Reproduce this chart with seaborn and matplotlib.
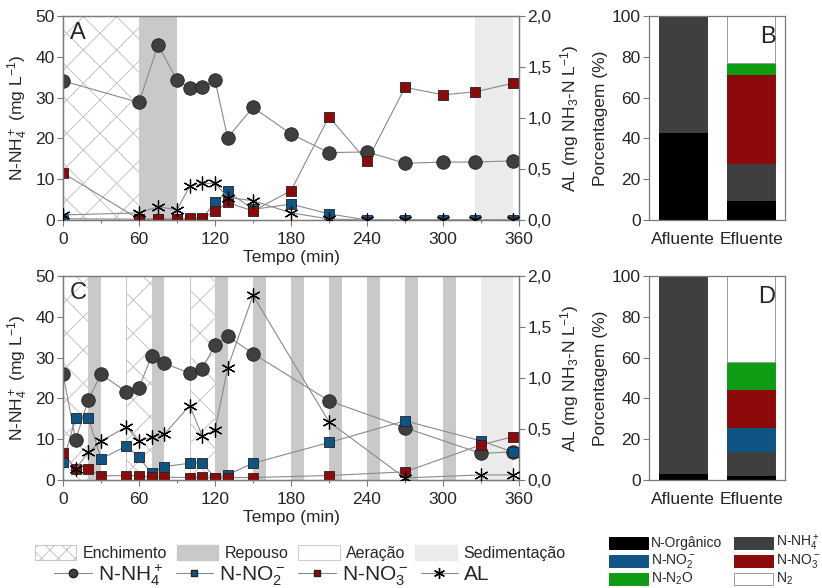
import numpy as np
import pandas as pd
import matplotlib
matplotlib.use("Agg")
import matplotlib.pyplot as plt
import seaborn as sns
from matplotlib.patches import Patch, Rectangle
from matplotlib.lines import Line2D

# ---------------- data ----------------
tA = [0, 60, 75, 90, 100, 110, 120, 130, 150, 180, 210, 240, 270, 300, 325, 355]
nh4_A = [34.1, 28.8, 42.9, 34.3, 32.3, 32.6, 34.3, 20.2, 27.6, 21.1, 16.5, 16.7, 13.9, 14.2, 14.2, 14.5]
no2_A = [0.3, 0.2, 0.2, 0.2, 0.3, 0.3, 4.4, 7.0, 2.6, 3.9, 1.5, 0.0, 0.0, 0.0, 0.0, 0.0]
no3_A = [11.5, 0.2, 0.2, 0.3, 0.5, 0.5, 2.1, 4.3, 2.2, 7.2, 25.3, 14.4, 32.5, 30.7, 31.4, 33.5]
al_A = [0.05, 0.07, 0.13, 0.10, 0.33, 0.36, 0.36, 0.22, 0.19, 0.07, 0.01, 0.0, 0.0, 0.0, 0.0, 0.0]

tC = [0, 10, 20, 30, 50, 60, 70, 80, 100, 110, 120, 130, 150, 210, 270, 330, 355]
nh4_C = [26.0, 9.8, 19.7, 25.9, 21.6, 22.6, 30.5, 28.6, 26.2, 27.3, 33.1, 35.3, 31.0, 19.4, 12.8, 6.5, 6.9]
no2_C = [4.3, 15.3, 15.3, 5.2, 8.3, 5.6, 1.6, 3.3, 4.1, 4.2, 0.5, 1.3, 4.1, 9.2, 14.5, 9.6, 6.9]
no3_C = [6.7, 2.7, 2.7, 1.0, 1.1, 1.0, 0.7, 0.7, 0.6, 0.7, 0.4, 0.6, 0.6, 1.1, 2.0, 8.6, 10.6]
tC_al = [10, 20, 30, 50, 60, 70, 80, 100, 110, 120, 130, 150, 210, 270, 330, 355]
al_C = [0.11, 0.27, 0.38, 0.52, 0.38, 0.42, 0.45, 0.73, 0.43, 0.49, 1.10, 1.81, 0.57, 0.02, 0.05, 0.05]

# phases (start, end) in minutes
fill_A = [(0, 60)]
rest_A = [(60, 90)]
sed_A = [(325, 355)]
fill_C = [(0, 20), (50, 70), (100, 120)]
rest_C = [(20, 30), (70, 80), (120, 130), (150, 160), (180, 190), (210, 220),
          (240, 250), (270, 280), (300, 310)]
sed_C = [(330, 355)]

bar_cats = ["Afluente", "Efluente"]
comp_names = ["N-Orgânico", "N-NH$_4^+$", "N-NO$_2^-$", "N-NO$_3^-$", "N-N$_2$O", "N$_2$"]
comp_B = {"Afluente": [43.0, 57.0, 0.0, 0.0, 0.0, 0.0],
          "Efluente": [9.8, 18.3, 0.0, 43.5, 5.2, 23.2]}
comp_D = {"Afluente": [3.3, 96.7, 0.0, 0.0, 0.0, 0.0],
          "Efluente": [2.5, 11.9, 11.7, 18.3, 13.6, 42.0]}

# ---------------- style ----------------
sns.set_style("ticks")
plt.rcParams['font.family'] = ['Liberation Sans', 'DejaVu Sans']
plt.rcParams['mathtext.default'] = 'regular'
plt.rcParams['hatch.linewidth'] = 0.6

C_NH4 = "#3f3f3f"
C_NO2 = "#0e5485"
C_NO3 = "#8c0a0a"
C_ORG = "#000000"
C_N2O = "#0d9c14"
C_LINE = "#8a8a8a"
C_SPINE = "#7a7a7a"
C_REST = "#c9c9c9"
C_SED = "#ebebeb"
C_HATCH = "#bdbdbd"
comp_colors = [C_ORG, C_NH4, C_NO2, C_NO3, C_N2O, "white"]

FS = 12.5

fig = plt.figure(figsize=(8.22, 5.88), dpi=100)
W, H = 822, 588


def ax_at(l, r, t, b):
    return fig.add_axes([l / W, 1 - b / H, (r - l) / W, (b - t) / H])


def style_axes(ax):
    for s in ax.spines.values():
        s.set_color(C_SPINE)
        s.set_linewidth(0.9)
    ax.tick_params(direction='out', length=4, width=0.8, color=C_SPINE,
                   labelsize=FS, pad=2)


def series(ax, t, y, marker, color, ms, z):
    d = pd.DataFrame({"t": t, "y": y})
    sns.lineplot(data=d, x="t", y="y", ax=ax, color=C_LINE, lw=0.8,
                 sort=False, zorder=z, legend=False)
    if marker == "ast":
        sns.scatterplot(data=d, x="t", y="y", ax=ax, marker=(6, 2, 0), s=ms,
                        color="black", linewidth=0.9, zorder=z + 1, legend=False)
    else:
        sns.scatterplot(data=d, x="t", y="y", ax=ax, marker=marker, s=ms,
                        color=color, edgecolor="#222222", linewidth=0.6,
                        zorder=z + 1, legend=False)


def time_panel(top, bot, fills, rests, seds, nh4, no2, no3, t, t_al, al, letter):
    ax = ax_at(63, 519, top, bot)
    style_axes(ax)
    for a, b in fills:
        ax.axvspan(a, b, facecolor="white", edgecolor=C_HATCH, hatch="x",
                   lw=0.6, zorder=0)
    for a, b in rests:
        ax.axvspan(a, b, facecolor=C_REST, edgecolor="none", zorder=0)
    for a, b in seds:
        ax.axvspan(a, b, facecolor=C_SED, edgecolor="none", zorder=0)
    series(ax, t, nh4, "o", C_NH4, 95, 3)
    series(ax, t, no2, "s", C_NO2, 55, 3)
    series(ax, t, no3, "s", C_NO3, 55, 3)
    ax.set_xlim(0, 360)
    ax.set_ylim(0, 50)
    ax.set_xticks(np.arange(0, 361, 60))
    ax.set_xticks(np.arange(30, 361, 60), minor=True)
    ax.tick_params(which='minor', direction='out', length=2.5, width=0.8, color=C_SPINE)
    ax.tick_params(axis='x', which='major', pad=5)
    ax.set_yticks(np.arange(0, 51, 10))
    ax.set_xlabel("Tempo (min)", fontsize=FS, labelpad=2)
    ax.set_ylabel("N-NH$_4^+$ (mg L$^{-1}$)", fontsize=FS, labelpad=4)
    ax.text(0.015, 0.97, letter, transform=ax.transAxes, fontsize=17,
            va='top', ha='left', zorder=10)
    ax2 = ax.twinx()
    style_axes(ax2)
    series(ax2, t_al, al, "ast", "black", 90, 4)
    ax2.set_ylim(0, 2.0)
    ax2.set_yticks([0, 0.5, 1.0, 1.5, 2.0])
    ax2.set_yticklabels(["0,0", "0,5", "1,0", "1,5", "2,0"])
    ax2.set_ylabel("AL (mg NH$_3$-N L$^{-1}$)", fontsize=FS, labelpad=5)
    ax2.set_xlim(0, 360)
    return ax


def bar_panel(top, bot, comp, letter):
    ax = ax_at(649, 785, top, bot)
    style_axes(ax)
    rows = []
    for cat in bar_cats:
        for name, v in zip(comp_names, comp[cat]):
            rows.append({"cat": cat, "comp": name, "v": v})
    df = pd.DataFrame(rows)
    bottoms = np.zeros(len(bar_cats))
    for i, name in enumerate(comp_names):
        vals = df[df["comp"] == name].set_index("cat").loc[bar_cats, "v"].values
        ax.bar(range(len(bar_cats)), vals, bottom=bottoms, width=0.7,
               color=comp_colors[i],
               edgecolor=("#9a9a9a" if comp_colors[i] == "white" else comp_colors[i]),
               linewidth=0.7, zorder=2)
        bottoms += vals
    ax.set_xlim(-0.5, 1.5)
    ax.set_ylim(0, 100)
    ax.set_xticks(range(len(bar_cats)))
    ax.set_xticklabels(bar_cats, fontsize=FS)
    ax.tick_params(axis='x', length=0, pad=9)
    ax.set_yticks(np.arange(0, 101, 20))
    ax.set_ylabel("Porcentagem (%)", fontsize=FS, labelpad=3)
    ax.text(0.93, 0.95, letter, transform=ax.transAxes, fontsize=17,
            va='top', ha='right', zorder=10)
    return ax


time_panel(16, 220, fill_A, rest_A, sed_A, nh4_A, no2_A, no3_A, tA, tA, al_A, "A")
time_panel(276, 480, fill_C, rest_C, sed_C, nh4_C, no2_C, no3_C, tC, tC_al, al_C, "C")
bar_panel(16, 220, comp_B, "B")
bar_panel(276, 480, comp_D, "D")

# ---------------- legends ----------------
phase_handles = [
    Patch(facecolor="white", edgecolor=C_HATCH, hatch="xx", lw=0.6),
    Patch(facecolor=C_REST, edgecolor=C_REST),
    Patch(facecolor="white", edgecolor="#cfcfcf", lw=0.8),
    Patch(facecolor=C_SED, edgecolor=C_SED),
]
phase_labels = ["Enchimento", "Repouso", "Aeração", "Sedimentação"]
fig.legend(phase_handles, phase_labels, loc="center", bbox_to_anchor=(300 / W, 1 - 553 / H),
           ncol=4, frameon=False, fontsize=11.5, handlelength=2.6, handleheight=1.1,
           columnspacing=0.6, handletextpad=0.4, borderpad=0.1)

line_handles = [
    Line2D([], [], color=C_LINE, lw=0.8, marker="o", ms=6, mfc=C_NH4, mec="#222222"),
    Line2D([], [], color=C_LINE, lw=0.8, marker="s", ms=5, mfc=C_NO2, mec="#222222"),
    Line2D([], [], color=C_LINE, lw=0.8, marker="s", ms=5, mfc=C_NO3, mec="#222222"),
    Line2D([], [], color=C_LINE, lw=0.8, marker=(6, 2, 0), ms=8, mfc="black", mec="black"),
]
line_labels = ["N-NH$_4^+$", "N-NO$_2^-$", "N-NO$_3^-$", "AL"]
fig.legend(line_handles, line_labels, loc="center", bbox_to_anchor=(272 / W, 1 - 575 / H),
           ncol=4, frameon=False, fontsize=15, handlelength=1.8,
           columnspacing=0.6, handletextpad=0.3, borderpad=0.1)

# composition legend: 3 rows x 2 columns, drawn as figure patches + text
leg_cols_x = [609, 734]
leg_rows_y = [543, 561, 579]
pw, ph = 39, 12
for k in range(len(comp_names)):
    r, c = k // 2, k % 2
    x0, yc = leg_cols_x[c], leg_rows_y[r]
    col = comp_colors[k]
    fig.patches.append(Rectangle((x0 / W, 1 - (yc + ph / 2) / H), pw / W, ph / H,
                                 transform=fig.transFigure, facecolor=col,
                                 edgecolor=("#9a9a9a" if col == "white" else col),
                                 lw=0.7))
    fig.text((x0 + pw + 3) / W, 1 - yc / H, comp_names[k], fontsize=10,
             va="center", ha="left")

fig.savefig("out.png", dpi=100)
